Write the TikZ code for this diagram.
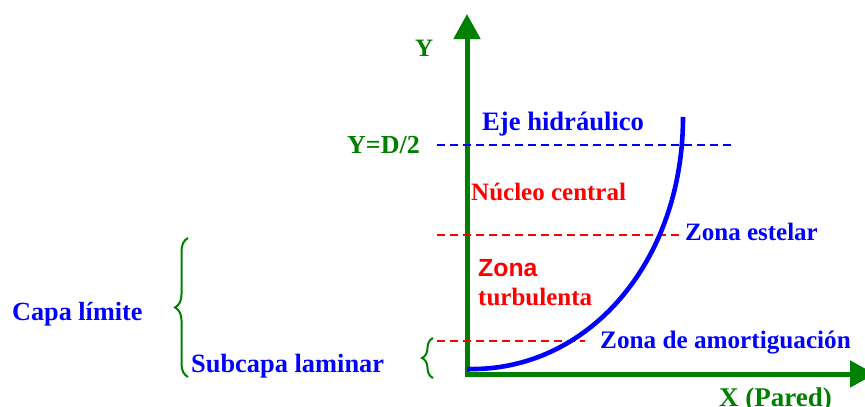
\documentclass[tikz,border=0pt]{standalone}
\usepackage{fontspec}
\setmainfont{Liberation Serif}
\newfontfamily\arialfont{Liberation Sans}
\usetikzlibrary{arrows.meta,decorations.pathreplacing}
\definecolor{gr}{RGB}{0,128,0}
\definecolor{bl}{RGB}{0,0,255}
\definecolor{rd}{RGB}{255,0,0}
\newcommand{\fs}[1]{\fontsize{#1}{#1}\selectfont\bfseries}
\tikzset{
  lbl/.style={inner sep=0pt, anchor=base west, font=\fs{25}},
  axis/.style={draw=gr, line width=5pt, -{Triangle[length=25pt,width=26pt]}},
  dline/.style={line width=1.4pt, dash pattern=on 8pt off 5pt},
  brc/.style={draw=gr, line width=2pt, decorate, decoration={brace, amplitude=13pt}},
}
\begin{document}
\begin{tikzpicture}[x=1pt,y=-1pt]
\useasboundingbox (0,0) rectangle (865,407);
% axes
\coordinate (O) at (467,376);
\coordinate (Ytip) at (467,14);
\coordinate (Xs) at (465,374);
\coordinate (Xtip) at (875,374);
\draw[axis] (O) -- (Ytip);
\draw[axis] (Xs) -- (Xtip);
% dashed lines
\coordinate (b1) at (437,145); \coordinate (b2) at (735,145);
\coordinate (r1) at (437,235); \coordinate (r2) at (680,235);
\coordinate (s1) at (437,341); \coordinate (s2) at (585,341);
\draw[dline, bl] (b1) -- (b2);
\draw[dline, rd] (r1) -- (r2);
\draw[dline, rd] (s1) -- (s2);
% velocity profile
\coordinate (c0) at (467,369);
\coordinate (c1) at (683,117);
\draw[bl, line width=4.6pt] (c0) .. controls (588,372) and (683,262) .. (c1);
% braces
\coordinate (B1) at (188,377); \coordinate (B2) at (188,238);
\draw[brc] (B1) -- (B2);
\coordinate (S1) at (433,378); \coordinate (S2) at (433,338);
\draw[brc, decoration={brace, amplitude=11pt}] (S1) -- (S2);
% labels
\node[lbl, text=gr] (ylab) at (415,56) {Y};
\node[lbl, text=gr, anchor=base east, font=\fs{26}] (yd) at (420,153) {Y=D/2};
\node[lbl, text=bl, font=\fs{26.6}] (eje) at (482,130) {Eje hidráulico};
\node[lbl, text=rd] (nuc) at (471,200) {Núcleo central};
\node[lbl, text=bl] (est) at (685,240) {Zona estelar};
\node[lbl, text=rd, font=\fs{24.8}\arialfont] (zona) at (478,276) {Zona};
\node[lbl, text=rd] (turb) at (478,305) {turbulenta};
\node[lbl, text=bl, font=\fs{25.2}] (amort) at (600,348) {Zona de amortiguación};
\node[lbl, text=bl, font=\fs{26.2}] (capa) at (12,320) {Capa límite};
\node[lbl, text=bl, font=\fs{26.4}] (sub) at (191,372) {Subcapa laminar};
\node[lbl, text=gr, font=\fs{27}] (xlab) at (719,406) {X (Pared)};
\end{tikzpicture}
\end{document}
